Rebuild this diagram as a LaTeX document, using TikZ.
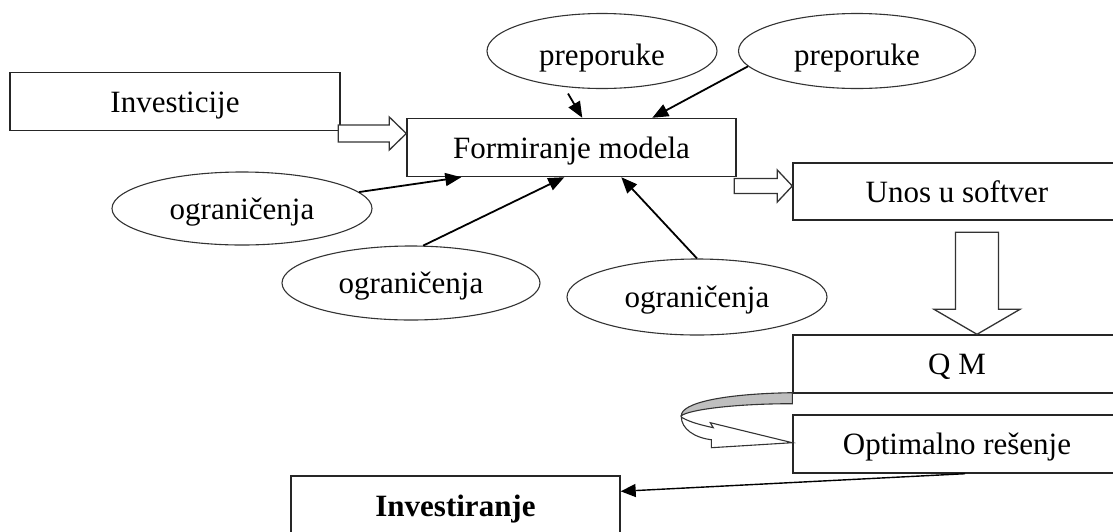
\documentclass[tikz,border=0pt]{standalone}
\usepackage{fontspec}
\setmainfont{Liberation Serif}
\usetikzlibrary{arrows.meta,shapes.geometric,calc}
\begin{document}
\begin{tikzpicture}[x=1pt,y=-1pt,
  txt/.style={font=\fontsize{31}{36}\selectfont,text height=21pt,text depth=0pt},
  box/.style={txt,draw=black!85,line width=1.4pt,fill=white,
    minimum width=#1,minimum height=58pt,inner sep=0pt},
  box/.default=330pt,
  oval/.style={txt,ellipse,draw=black!80,line width=1.1pt,inner sep=0pt},
  conn/.style={-{Triangle[length=16pt,width=13pt]},line width=1.8pt},
  thinconn/.style={-{Triangle[length=15pt,width=13pt]},line width=1.4pt},
  hollow/.style={draw=black!80,line width=1.3pt,fill=white,line join=miter},
  band/.style={draw=black!80,line width=1.1pt,fill=black!25},
]
\useasboundingbox (0,0) rectangle (1113,531);
\clip (0,0) rectangle (1113,531);

% rectangular process boxes
\node[box] (inv)    at (175,101.5)  {Investicije};
\node[box=329pt] (form)   at (571.5,147.5) {Formiranje modela};
\node[box=328pt,minimum height=57pt] (unos) at (957,191.5) {Unos u softver};
\node[box=328pt] (qm)     at (957,364)    {Q M};
\node[box=328pt] (opt)    at (957,444)    {Optimalno rešenje};
\node[box=329pt,minimum height=59pt] (invest) at (455.5,505.5) {\textbf{Investiranje}};

% input ellipses
\node[oval,text height=29pt,minimum width=230pt,minimum height=75pt] (p1) at (602,51)  {preporuke};
\node[oval,text height=29pt,minimum width=237pt,minimum height=75pt] (p2) at (857,51)  {preporuke};
\node[oval,text height=22pt,minimum width=260pt,minimum height=73pt] (o1) at (242,208.5) {ograničenja};
\node[oval,minimum width=258pt,minimum height=74pt] (o2) at (411,283) {ograničenja};
\node[oval,minimum width=260pt,minimum height=76pt] (o3) at (697,297) {ograničenja};

% block arrows between the boxes
\coordinate (tipA) at ($(form.west)+(0,-14)$);
\draw[hollow] (tipA) -- ++(-17,-16.5) -- ++(0,8) -- ++(-51,0) -- ++(0,17)
  -- ++(51,0) -- ++(0,8) -- cycle;
\coordinate (tipB) at ($(unos.west)+(0,-5.5)$);
\draw[hollow] (tipB) -- ++(-15,-16) -- ++(0,8.5) -- ++(-43,0) -- ++(0,15)
  -- ++(43,0) -- ++(0,8.5) -- cycle;
\coordinate (tipC) at ($(qm.north)+(20,0)$);
\draw[hollow] (tipC) -- ++(-43,-25) -- ++(21.5,0) -- ++(0,-77) -- ++(43,0)
  -- ++(0,77) -- ++(21.5,0) -- cycle;

% curled arrow from Q M round to Optimalno resenje
\begin{scope}[shift={(qm.south west)}]
  \draw[band] (0,-1) .. controls (-68,0) and (-111,9) .. (-111,22)
    .. controls (-103,16) and (-58,10) .. (0,10) -- cycle;
  \draw[hollow,line width=1.1pt] (-111,23) .. controls (-111,35) and (-98,44) .. (-81,46)
    -- (-81,54) -- (0,49) -- (-82,29) -- (-79,34)
    .. controls (-93,31) and (-103,28) .. (-110,24) -- cycle;
\end{scope}

% connectors into the model
\draw[conn] ($(p1.south)+(-34,4.5)$) -- ($(form.north west)+(176,0)$);
\draw[conn] (p2.188) -- ($(form.north west)+(246,0)$);
\draw[conn] (o1.8) -- ($(form.south west)+(55,0)$);
\draw[conn] (o2.72) -- ($(form.south west)+(158,0)$);
\draw[conn] (o3.north) -- ($(form.south west)+(215,0)$);

% result to investment
\draw[thinconn] ($(opt.south)+(8,0)$) -- ($(invest.north east)+(0,16)$);
\end{tikzpicture}
\end{document}
